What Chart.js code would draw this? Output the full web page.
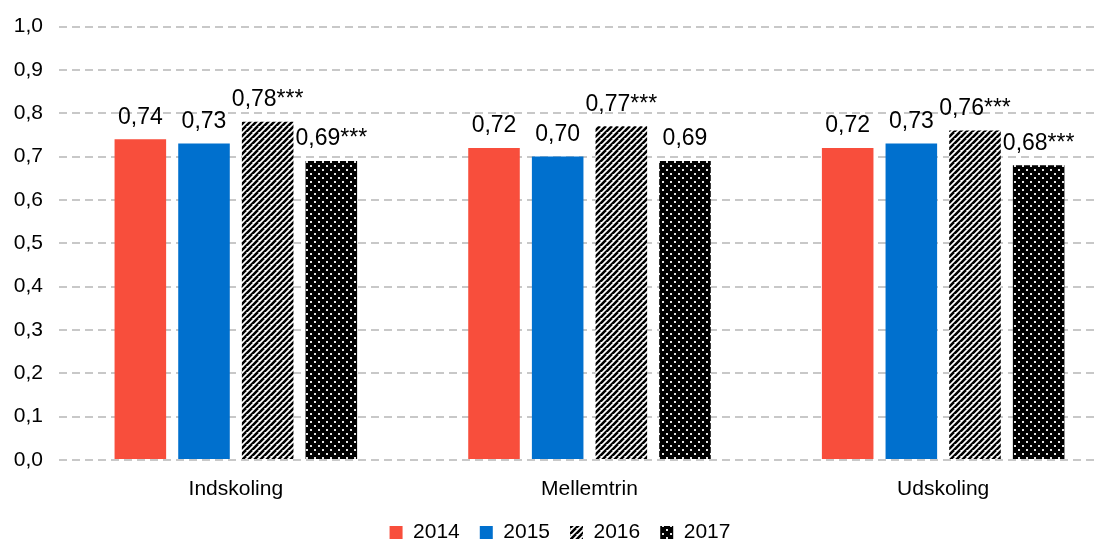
<!DOCTYPE html>
<html>
<head>
<meta charset="utf-8">
<script src="https://cdn.jsdelivr.net/npm/chart.js@4/dist/chart.umd.min.js"></script>
<style>
  html, body { margin: 0; padding: 0; background: #fff; overflow: hidden; }
  #wrap { position: relative; width: 1120px; height: 542px; }
</style>
</head>
<body>
<div id="wrap"><canvas id="grafico"></canvas></div>
<script>
const categories = ["Indskoling", "Mellemtrin", "Udskoling"];
const years = ["2014", "2015", "2016", "2017"];
const v2014 = [0.74, 0.72, 0.72];
const v2015 = [0.73, 0.70, 0.73];
const v2016 = [0.78, 0.77, 0.76];
const v2017 = [0.69, 0.69, 0.68];
const stars2014 = ["", "", ""];
const stars2015 = ["", "", ""];
const stars2016 = ["***", "***", "***"];
const stars2017 = ["***", "", "***"];
const yTicks = [0, 0.1, 0.2, 0.3, 0.4, 0.5, 0.6, 0.7, 0.8, 0.9, 1.0];

const FONT = "'Liberation Sans', Arial, sans-serif";

// mønstre for 2016 og 2017
function stripes() {
  const c = document.createElement("canvas");
  c.width = 6; c.height = 6;
  const g = c.getContext("2d");
  g.fillStyle = "#fff";
  g.fillRect(0, 0, 6, 6);
  g.strokeStyle = "#000";
  g.lineWidth = 2.6;
  g.beginPath();
  for (let k = -6; k <= 12; k += 6) {
    g.moveTo(k - 6, 12);
    g.lineTo(k + 6, 0);
  }
  g.stroke();
  return g.createPattern(c, "repeat");
}

function dots() {
  const c = document.createElement("canvas");
  c.width = 8; c.height = 8;
  const g = c.getContext("2d");
  g.fillStyle = "#000";
  g.fillRect(0, 0, 8, 8);
  g.fillStyle = "#e6e6e6";
  g.fillRect(2, 1, 2, 2);
  g.fillRect(6, 5, 2, 2);
  return g.createPattern(c, "repeat");
}

const fmt = (v) => v.toFixed(2).replace(".", ",");

const dataLabels = {
  id: "dataLabels",
  afterDatasetsDraw(chart) {
    const ctx = chart.ctx;
    ctx.save();
    ctx.font = "23px " + FONT;
    ctx.fillStyle = "#000";
    ctx.textAlign = "center";
    ctx.textBaseline = "middle";
    chart.data.datasets.forEach((ds, i) => {
      chart.getDatasetMeta(i).data.forEach((bar, j) => {
        ctx.fillText(fmt(ds.data[j]) + ds.stars[j], bar.x, bar.y - 22);
      });
    });
    ctx.restore();
  },
};

const ctx = document.getElementById("grafico").getContext("2d");
new Chart(ctx, {
  type: "bar",
  data: {
    labels: categories,
    datasets: [
      { label: years[0], data: v2014, stars: stars2014, backgroundColor: "#F84E3C" },
      { label: years[1], data: v2015, stars: stars2015, backgroundColor: "#0070CE" },
      { label: years[2], data: v2016, stars: stars2016, backgroundColor: stripes() },
      { label: years[3], data: v2017, stars: stars2017, backgroundColor: dots() },
    ],
  },
  options: {
    responsive: true,
    maintainAspectRatio: false,
    animation: false,
    categoryPercentage: 0.72,
    barPercentage: 0.81,
    layout: { padding: { top: 25, right: 0, bottom: 0, left: 0 } },
    plugins: {
      tooltip: { enabled: false },
      legend: {
        position: "bottom",
        maxHeight: 40,
        labels: {
          font: { family: FONT, size: 21 },
          color: "#000",
          boxWidth: 13,
          boxHeight: 13,
          padding: 20,
        },
      },
    },
    scales: {
      x: {
        grid: { display: false },
        border: { display: false },
        ticks: { font: { family: FONT, size: 21, lineHeight: 1 }, color: "#000", padding: 11 },
        afterFit: (s) => { s.height = 42; },
      },
      y: {
        min: 0,
        max: 1,
        afterBuildTicks: (s) => { s.ticks = yTicks.map((v) => ({ value: v })); },
        afterFit: (s) => { s.width = 59; },
        border: { display: false, dash: [8, 5] },
        grid: { color: "#c8c8c8", lineWidth: 2, drawTicks: false },
        ticks: {
          font: { family: FONT, size: 21, lineHeight: 1 },
          color: "#000",
          padding: 16,
          callback: (v) => v.toFixed(1).replace(".", ","),
        },
      },
    },
  },
  plugins: [dataLabels],
});
</script>
</body>
</html>
